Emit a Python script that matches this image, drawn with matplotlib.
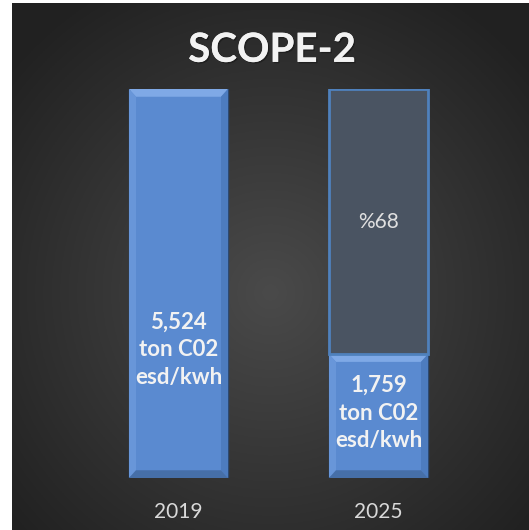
import numpy as np
import matplotlib.pyplot as plt
import matplotlib.patheffects as pe
from matplotlib.patches import Polygon

# Chart data
years = ["2019", "2025"]
emissions = [5524, 1759]          # ton CO2 esd/kwh
reduction_pct = 68
value_labels = ["5,524\nton C02\nesd/kwh", "1,759\nton C02\nesd/kwh"]

plt.rcParams['font.family'] = ['Lato', 'DejaVu Sans']

fig = plt.figure(figsize=(5.29, 5.30), dpi=100)
fig.patch.set_facecolor("white")

# Dark radial-gradient background panel
bg = fig.add_axes([12 / 529, 0, 517 / 529, 527 / 530])
gx, gy = np.meshgrid(np.linspace(-1, 1, 300), np.linspace(-1, 1, 300))
r = np.sqrt(gx**2 + (gy + 0.1)**2)
shade = np.clip(0.29 - 0.12 * r, 0.13, 0.29)
bg.imshow(np.dstack([shade] * 3), extent=[0, 1, 0, 1], aspect="auto", origin="lower")
bg.set_axis_off()

# Main bar axes
ax = fig.add_axes([78.5 / 529, 52 / 530, 400 / 529, 389 / 530])
ax.patch.set_alpha(0)
x = np.arange(len(years))
width = 0.495


def bevel(ax, xc, bottom, height, top_c, left_c, right_c, bot_c, bx=0.035, by=110):
    # soft 3D bevel around a bar
    l, rgt = xc - width / 2, xc + width / 2
    b, t = bottom, bottom + height
    faces = [
        ([(l, t), (rgt, t), (rgt - bx, t - by), (l + bx, t - by)], top_c),
        ([(l, b), (l, t), (l + bx, t - by), (l + bx, b + by)], left_c),
        ([(rgt, b), (rgt, t), (rgt - bx, t - by), (rgt - bx, b + by)], right_c),
        ([(l, b), (rgt, b), (rgt - bx, b + by), (l + bx, b + by)], bot_c),
    ]
    for pts, c in faces:
        ax.add_patch(Polygon(pts, closed=True, facecolor=c, edgecolor="none", zorder=3))


blue = "#5a8ad0"

ax.bar(x, emissions, width=width, color=blue, edgecolor="#2d4a72", linewidth=1.0, zorder=2)
for xi, h in zip(x, emissions):
    bevel(ax, xi, 0, h, "#7fa9e6", "#6896d9", "#4d7cbf", "#466fa8")

# remaining part for 2025 (difference to 2019)
remaining = emissions[0] - emissions[1]
ax.bar(x[1], remaining, bottom=emissions[1], width=width, color="#4a5462",
       edgecolor="#4f81bd", linewidth=2.0, zorder=4)
bevel(ax, x[1], emissions[1], remaining, "#5b6370", "#4f5967", "#454e5b", "#414a56")

shadow = [pe.withSimplePatchShadow(offset=(1, -1), shadow_rgbFace="black", alpha=0.3), pe.Normal()]

ax.text(x[0], 1818, value_labels[0], ha="center", va="center", fontsize=16,
        fontweight="bold", color="#f2f2f2", linespacing=1.4, zorder=5)
ax.text(x[1], 923, value_labels[1], ha="center", va="center", fontsize=16,
        fontweight="bold", color="#f2f2f2", linespacing=1.4, zorder=5)
ax.text(x[1], emissions[1] + remaining / 2, f"%{reduction_pct}", ha="center", va="center",
        fontsize=15, color="#e0e0e0", zorder=5)

ax.set_xlim(-0.5, 1.5)
ax.set_ylim(0, emissions[0])
ax.set_xticks(x)
ax.set_xticklabels(years, fontsize=15, color="#d9d9d9")
ax.tick_params(axis="x", length=0, pad=17)
ax.set_yticks([])
for s in ax.spines.values():
    s.set_visible(False)

fig.text(0.514, 0.905, "SCOPE-2", ha="center", va="center", fontsize=29,
         fontweight="bold", color="#f2f2f2", path_effects=shadow)

fig.savefig("out.png", dpi=100, facecolor=fig.get_facecolor())
